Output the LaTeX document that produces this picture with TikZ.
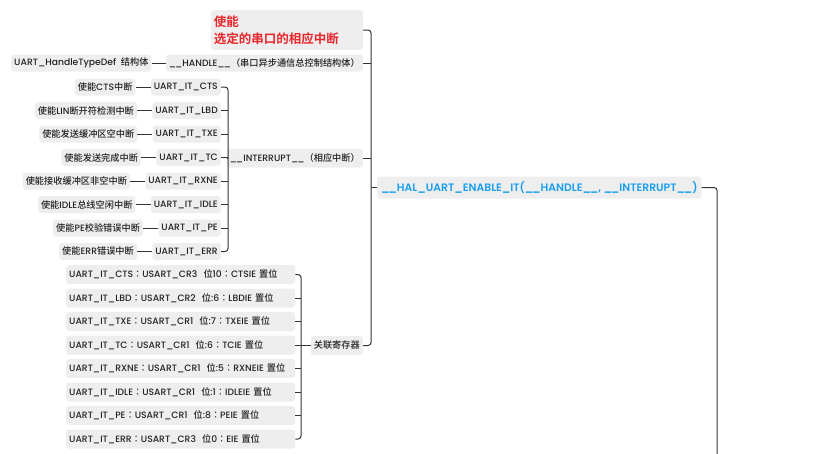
\documentclass[tikz,border=0pt]{standalone}
\usepackage{fontspec}
\IfFontExistsTF{Poppins Medium}{\setmainfont{Poppins Medium}[BoldFont={Poppins SemiBold}]}{\setmainfont{Poppins}}
\IfFontExistsTF{Noto Sans CJK SC Medium}{\newfontfamily\cjk{Noto Sans CJK SC Medium}[BoldFont={Noto Sans CJK SC Bold}]}{\newfontfamily\cjk{Noto Sans CJK SC}}
\newfontfamily\cjktc{Noto Sans CJK TC}
\newcommand\zh[1]{{\cjk #1}}
\newcommand\col{{\cjktc ：}}
\newcommand\dus{\_\kern-0.12em\_}
\usetikzlibrary{positioning}
\definecolor{boxgray}{HTML}{EEEEEE}
\definecolor{linegray}{HTML}{333333}
\definecolor{hlblue}{HTML}{1A9FEF}
\definecolor{hlred}{HTML}{E8262C}
\definecolor{txt}{HTML}{222222}
\begin{document}
\begin{tikzpicture}[x=1pt,y=-1pt,
  box/.style={fill=boxgray, rounded corners=3pt, inner xsep=3pt, inner ysep=0pt,
    minimum height=17pt, font=\fontsize{9.2}{11}\selectfont, text=txt},
  itbox/.style={box, anchor=east},
  leaf/.style={box, left=15pt of #1},
  regbox/.style={box, minimum height=19pt, text width=223pt, align=left, anchor=west},
  conn/.style={draw=linegray, line width=1pt},
  brk/.style={conn, rounded corners=3pt},
]
\useasboundingbox (0,0) rectangle (816,453);

% main node
\node[box, anchor=west, minimum height=22pt, inner xsep=4pt, font=\bfseries\fontsize{10.8}{12}\selectfont, text=hlblue]
  (main) at (377,187.5) {\dus HAL\_UART\_ENABLE\_IT(\dus HANDLE\dus, \dus INTERRUPT\dus)};

% first level children
\node[box, anchor=east, text width=146pt, align=left, minimum height=40pt,
  font={\cjk\bfseries\fontsize{12.5}{17}\selectfont}, text=hlred] (title) at (363,30)
  {使能\\选定的串口的相应中断};
\node[box, anchor=east] (hdl) at (363,63) {\dus HANDLE\dus\zh{（串口异步通信总控制结构体）}};
\node[box, left=14pt of hdl] (hdlL) {UART\_HandleTypeDef\ \ \zh{结构体}};
\node[box, anchor=east, minimum height=19pt] (intr) at (363,158) {\dus INTERRUPT\dus\zh{（相应中断）}};
\node[box, anchor=east, minimum height=19pt] (reg) at (363,345.5) {\zh{关联寄存器}};

% interrupt children
\node[itbox] (cts) at (221,87) {UART\_IT\_CTS};
\node[itbox] (lbd) at (221,110.5) {UART\_IT\_LBD};
\node[itbox] (txe) at (221,134) {UART\_IT\_TXE};
\node[itbox] (tc) at (221,157.5) {UART\_IT\_TC};
\node[itbox] (rxne) at (221,181) {UART\_IT\_RXNE};
\node[itbox] (idle) at (221,204.5) {UART\_IT\_IDLE};
\node[itbox] (pe) at (221,228) {UART\_IT\_PE};
\node[itbox] (err) at (221,251.5) {UART\_IT\_ERR};

\node[leaf=cts] (ctsL) {\zh{使能}CTS\zh{中断}};
\node[leaf=lbd] (lbdL) {\zh{使能}LIN\zh{断开符检测中断}};
\node[leaf=txe] (txeL) {\zh{使能发送缓冲区空中断}};
\node[leaf=tc] (tcL) {\zh{使能发送完成中断}};
\node[leaf=rxne] (rxneL) {\zh{使能接收缓冲区非空中断}};
\node[leaf=idle] (idleL) {\zh{使能}IDLE\zh{总线空闲中断}};
\node[leaf=pe] (peL) {\zh{使能}PE\zh{校验错误中断}};
\node[leaf=err] (errL) {\zh{使能}ERR\zh{错误中断}};

% register children
\node[regbox] (r1) at (66,274.5) {UART\_IT\_CTS\col USART\_CR3\ \ \zh{位}10\col CTSIE \zh{置位}};
\node[regbox] (r2) at (66,298) {UART\_IT\_LBD\col USART\_CR2\ \ \zh{位}:6\col LBDIE \zh{置位}};
\node[regbox] (r3) at (66,321.5) {UART\_IT\_TXE\col USART\_CR1\ \ \zh{位}:7\col TXEIE \zh{置位}};
\node[regbox] (r4) at (66,345) {UART\_IT\_TC\col USART\_CR1\ \ \zh{位}:6\col TCIE \zh{置位}};
\node[regbox] (r5) at (66,368.5) {UART\_IT\_RXNE\col USART\_CR1\ \ \zh{位}:5\col RXNEIE \zh{置位}};
\node[regbox] (r6) at (66,392) {UART\_IT\_IDLE\col USART\_CR1\ \ \zh{位}:1\col IDLEIE \zh{置位}};
\node[regbox] (r7) at (66,415.5) {UART\_IT\_PE\col USART\_CR1\ \ \zh{位}:8\col PEIE \zh{置位}};
\node[regbox] (r8) at (66,439) {UART\_IT\_ERR\col USART\_CR3\ \ \zh{位}0\col EIE \zh{置位}};

% bracket x positions
\coordinate (bx) at (371,0);
\coordinate (ix) at (228,0);
\coordinate (rx) at (301,0);
\coordinate (up) at (717,470);

% main bracket
\draw[brk] (title.east) -| (bx |- reg.east) -- (reg.east);
\draw[conn] (hdl.east) -- (hdl.east -| bx);
\draw[conn] (intr.east) -- (intr.east -| bx);
\draw[conn] (main.west -| bx) -- (main.west);
\draw[brk] (main.east) -| (up);

% handle pair
\draw[conn] (hdlL.east) -- (hdl.west);

% interrupt bracket
\draw[brk] (cts.east) -| (ix |- err.east) -- (err.east);
\foreach \n in {lbd,txe,tc,rxne,idle,pe} \draw[conn] (\n.east) -- (\n.east -| ix);
\draw[conn] (intr.west -| ix) -- (intr.west);
\foreach \n in {cts,lbd,txe,tc,rxne,idle,pe,err} \draw[conn] (\n L.east) -- (\n.west);

% register bracket
\draw[brk] (r1.east) -| (rx |- r8.east) -- (r8.east);
\foreach \n in {r2,r3,r4,r5,r6,r7} \draw[conn] (\n.east) -- (\n.east -| rx);
\draw[conn] (reg.west -| rx) -- (reg.west);
\end{tikzpicture}
\end{document}
